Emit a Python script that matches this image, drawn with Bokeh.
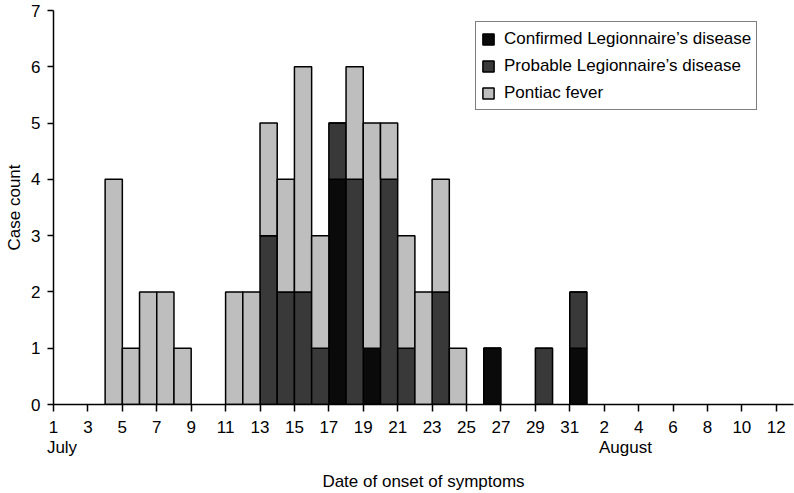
from bokeh.plotting import figure
from bokeh.models import FixedTicker, ColumnDataSource, LinearAxis
from bokeh.embed import file_html
from bokeh.resources import INLINE

# Day of onset (July day number; 32 = 1 August), one bar per day
days = [4, 5, 6, 7, 8, 11, 12, 13, 14, 15, 16, 17, 18, 19, 20, 21, 22, 23, 24, 26, 29, 31]
confirmed = [0, 0, 0, 0, 0, 0, 0, 0, 0, 0, 0, 4, 0, 1, 0, 0, 0, 0, 0, 1, 0, 1]
probable = [0, 0, 0, 0, 0, 0, 0, 3, 2, 2, 1, 1, 4, 0, 4, 1, 0, 2, 0, 0, 1, 1]
pontiac = [4, 1, 2, 2, 1, 2, 2, 2, 2, 4, 2, 0, 2, 4, 1, 2, 2, 2, 1, 0, 0, 0]

series = ["confirmed", "probable", "pontiac"]
series_labels = ["Confirmed Legionnaire\u2019s disease",
                 "Probable Legionnaire\u2019s disease",
                 "Pontiac fever"]
series_colors = ["#0a0a0a", "#393939", "#bebebe"]

tick_days = [1, 3, 5, 7, 9, 11, 13, 15, 17, 19, 21, 23, 25, 27, 29, 31,
             33, 35, 37, 39, 41, 43]
tick_labels = ["1", "3", "5", "7", "9", "11", "13", "15", "17", "19", "21", "23",
               "25", "27", "29", "31", "2", "4", "6", "8", "10", "12"]
y_ticks = [0, 1, 2, 3, 4, 5, 6, 7]
months = ["July", "August"]
month_ticks = [1, 33]
# leading spaces so the month name starts at its first day label
month_pads = ["\u2002\u2002", "\u2003\u2003\u2002"]

FONT = "Liberation Sans"

src = ColumnDataSource(dict(
    x=[d + 0.5 for d in days],
    confirmed=confirmed, probable=probable, pontiac=pontiac))

p = figure(width=794, height=493, output_backend="svg", toolbar_location=None,
           x_range=(1, 44), y_range=(0, 7),
           min_border_left=53, min_border_right=1,
           min_border_top=10, min_border_bottom=87)

p.vbar_stack(series, x="x", width=1, source=src,
             fill_color=series_colors, line_color="black", line_width=1.5,
             legend_label=series_labels)

p.grid.grid_line_color = None
p.outline_line_color = None

p.xaxis.ticker = FixedTicker(ticks=tick_days)
p.xaxis.major_label_overrides = {t: l for t, l in zip(tick_days, tick_labels)}
p.yaxis.ticker = FixedTicker(ticks=y_ticks)

month_axis = LinearAxis(
    ticker=FixedTicker(ticks=month_ticks),
    major_label_overrides={t: pad + m for t, m, pad in zip(month_ticks, months, month_pads)})
p.add_layout(month_axis, "below")


def style(ax):
    ax.minor_tick_line_color = None
    ax.major_tick_in = 0
    ax.major_tick_out = 7
    ax.axis_line_width = 1.5
    ax.axis_line_color = "black"
    ax.major_tick_line_width = 1.5
    ax.major_tick_line_color = "black"
    ax.major_label_text_font = FONT
    ax.major_label_text_font_size = "17px"
    ax.major_label_text_color = "black"
    ax.axis_label_text_font = FONT
    ax.axis_label_text_font_size = "17px"
    ax.axis_label_text_font_style = "normal"
    ax.axis_label_text_color = "black"


for ax in p.axis:
    style(ax)

p.xaxis[0].major_label_standoff = 9
p.yaxis.major_tick_out = 6
p.yaxis.major_label_standoff = 7
p.yaxis.axis_label = "Case count"
p.yaxis.axis_label_standoff = 4

month_axis.axis_line_color = None
month_axis.major_tick_line_color = None
month_axis.major_tick_out = 0
month_axis.major_label_standoff = 2
month_axis.axis_label = "Date of onset of symptoms"
month_axis.axis_label_standoff = 12

lg = p.legend[0]
lg.location = (422, 294)
lg.border_line_color = "black"
lg.border_line_width = 1.5
lg.background_fill_alpha = 1
lg.label_text_font = FONT
lg.label_text_font_size = "17px"
lg.label_text_color = "black"
lg.glyph_width = 14
lg.glyph_height = 14
lg.label_height = 23
lg.spacing = 4
lg.padding = 5
lg.margin = 0
lg.label_standoff = 9

open("out.html", "w").write(file_html(p, INLINE))
